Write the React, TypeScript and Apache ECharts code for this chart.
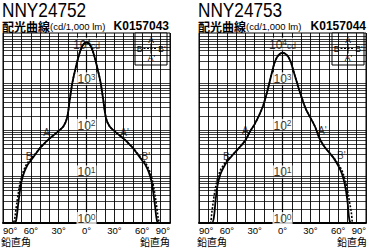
import React, { useEffect, useRef } from 'react';
import * as echarts from 'echarts';

// ---------------- data ----------------
const ANGLES = [-90, -80, -78, -76, -74, -72, -70, -67, -64, -60, -55, -50, -45, -40, -35, -30, -25, -21, -18, -15, -12, -9, -6, -3, 0,
  3, 6, 9, 12, 15, 18, 21, 25, 30, 35, 40, 45, 50, 55, 60, 64, 67, 70, 72, 74, 76, 78, 80, 90];

// NNY24752  (cd/1,000 lm)
const SOLID_1 = [1, 1, 1, 1.1, 2.2, 4.5, 8, 12.5, 17, 22, 30, 41, 52, 65, 78, 95, 118, 180, 450, 1080, 2000, 3500, 5400, 7000, 7500,
  7000, 5400, 3500, 2000, 1080, 450, 180, 118, 95, 78, 65, 52, 41, 30, 22, 17, 12.5, 8, 4.5, 2.2, 1.1, 1, 1, 1];
const DASHED_1 = [1, 1, 1.1, 2, 3.8, 6.5, 10, 14.5, 19, 24, 31, 41, 52, 65, 78, 95, 118, 180, 450, 1080, 2000, 3500, 5400, 7000, 7500,
  7000, 5400, 3500, 2000, 1080, 450, 180, 118, 95, 78, 65, 52, 41, 31, 24, 19, 14.5, 10, 6.5, 3.8, 2, 1.1, 1, 1];

// NNY24753
const SOLID_2 = [1, 1, 1, 1, 1.3, 3.2, 6.5, 11, 15, 20.5, 27, 35, 45, 60, 92, 133, 210, 325, 515, 860, 1530, 2600, 3600, 4250, 4500,
  4300, 3750, 2820, 1790, 1130, 715, 475, 284, 183, 118, 65, 44, 33, 25, 17, 11.5, 7, 3, 1.2, 1, 1, 1, 1, 1];
const DASHED_2 = [1, 1, 1, 1.8, 3.5, 6, 9, 13.5, 17, 22, 27.5, 35, 45, 60, 92, 133, 210, 325, 515, 860, 1530, 2600, 3600, 4250, 4500,
  4300, 3750, 2820, 1790, 1130, 715, 475, 284, 183, 118, 65, 44, 33, 25.5, 18.5, 13.5, 9, 5, 3, 1.8, 1, 1, 1, 1];

const DECADES = [1, 10, 100, 1000, 10000];
const MINOR_STEPS = [2, 3, 4, 5, 6, 7, 8, 9, 10];
const X_TICK_LABELS = [-90, -60, -30, 0, 30, 60, 90];

const CURVE_LABELS_1 = [
  { text: 'A', angle: -43, cd: 86 },
  { text: "A'", angle: 41, cd: 86 },
  { text: 'B', angle: -62, cd: 27 },
  { text: "B'", angle: 64, cd: 27 },
];
const CURVE_LABELS_2 = [
  { text: 'A', angle: -40, cd: 95 },
  { text: "A'", angle: 43, cd: 95 },
  { text: 'B', angle: -60.5, cd: 27 },
  { text: "B'", angle: 63.5, cd: 27.5 },
];

const PANELS = [
  { title: 'NNY24752', code: 'K0157043', solid: SOLID_1, dashed: DASHED_1, labels: CURVE_LABELS_1, left: 3, width: 167 },
  { title: 'NNY24753', code: 'K0157044', solid: SOLID_2, dashed: DASHED_2, labels: CURVE_LABELS_2, left: 199, width: 168 },
];

// ---------------- styling ----------------
const SANS = "'Liberation Sans', Arial, sans-serif";
const CJK = "'Noto Sans CJK JP', sans-serif";
const GRID_TOP = 33;
const GRID_H = 190;
const Y_MAX = 12000;

function gridValues(): number[] {
  const out: number[] = [];
  DECADES.slice(0, 4).forEach((d) => MINOR_STEPS.forEach((m) => out.push(d * m)));
  return out;
}

function buildOption() {
  const grid: any[] = [];
  const xAxis: any[] = [];
  const yAxis: any[] = [];
  const series: any[] = [];
  const graphic: any[] = [];

  PANELS.forEach((p, i) => {
    grid.push({
      left: p.left, top: GRID_TOP, width: p.width, height: GRID_H,
      show: true, borderColor: '#000', borderWidth: 1, backgroundColor: '#fff',
    });
    xAxis.push({
      type: 'value', gridIndex: i, min: -90, max: 90, interval: 10,
      axisLine: { show: true, onZero: false, lineStyle: { color: '#000', width: 2 } },
      axisTick: { show: false },
      splitLine: { show: true, lineStyle: { color: '#000', width: 0.9 } },
      axisLabel: {
        interval: 0, margin: 2, color: '#000', fontSize: 9.5, fontFamily: SANS,
        alignMinLabel: 'left', alignMaxLabel: 'right',
        formatter: (v: number) => (X_TICK_LABELS.includes(v) ? Math.abs(v) + '°' : ''),
      },
    });
    yAxis.push({
      type: 'log', logBase: 10, gridIndex: i, min: 1, max: Y_MAX,
      axisLine: { show: true, lineStyle: { color: '#000', width: 1.2 } },
      axisTick: { show: false }, axisLabel: { show: false }, splitLine: { show: false },
    });

    // horizontal log grid lines
    series.push({
      type: 'line', xAxisIndex: i, yAxisIndex: i, z: 1, silent: true,
      data: [[0, 1]], symbol: 'none', lineStyle: { width: 0 },
      markLine: {
        silent: true, symbol: ['none', 'none'], label: { show: false },
        lineStyle: { color: '#000', width: 0.75, type: 'solid' },
        emphasis: { disabled: true },
        data: gridValues().map((v) => ({ yAxis: v })),
      },
    });

    // decade labels 10^n on the 0° line
    series.push({
      type: 'scatter', xAxisIndex: i, yAxisIndex: i, z: 2, silent: true,
      symbolSize: 0,
      data: DECADES.map((d, k) => ({
        value: [0, d],
        label: k === 4 ? { position: 'bottom', distance: 1 } : { position: 'top', distance: -2 },
      })),
      label: {
        show: true, backgroundColor: '#fff', padding: [0, 1, 0, 1],
        formatter: (pr: any) => {
          const k = Math.round(Math.log10(pr.value[1]));
          return `{n|10}{s|${k}}` + (k === 4 ? '{c|cd}' : '');
        },
        rich: {
          n: { fontSize: 12, fontFamily: SANS, color: '#000', lineHeight: 13, verticalAlign: 'bottom' },
          s: { fontSize: 8.5, fontFamily: SANS, color: '#000', lineHeight: 13, verticalAlign: 'top' },
          c: { fontSize: 8.5, fontFamily: SANS, color: '#000', lineHeight: 13, verticalAlign: 'bottom' },
        },
      },
    });

    // B-B' dashed curve
    series.push({
      type: 'line', xAxisIndex: i, yAxisIndex: i, z: 3, silent: true, clip: true,
      data: ANGLES.map((a, j) => [a, p.dashed[j]]), symbol: 'none', smooth: 0.35,
      lineStyle: { color: '#000', width: 1.6, type: [2, 1.6] },
    });
    // A-A' solid curve
    series.push({
      type: 'line', xAxisIndex: i, yAxisIndex: i, z: 4, silent: true, clip: true,
      data: ANGLES.map((a, j) => [a, p.solid[j]]), symbol: 'none', smooth: 0.35,
      lineStyle: { color: '#000', width: 1.8 },
    });
    // A / B labels
    series.push({
      type: 'scatter', xAxisIndex: i, yAxisIndex: i, z: 5, silent: true, symbolSize: 0,
      data: p.labels.map((l) => ({ value: [l.angle, l.cd], name: l.text })),
      label: { show: true, position: 'inside', formatter: '{b}', fontSize: 10, fontFamily: SANS, color: '#000' },
    });

    const right = p.left + p.width;
    // titles (condensed look via scaleX)
    graphic.push({
      type: 'text', x: p.left - 1, y: 10, z: 20, scaleX: 0.82,
      style: { text: p.title, fontSize: 21, fontFamily: SANS, fill: '#000', verticalAlign: 'middle', align: 'left' },
    });
    graphic.push({
      type: 'text', x: p.left - 1, y: 26, z: 20,
      style: {
        text: '{a|配光曲線}{b|(cd/1,000 lm)}', verticalAlign: 'middle', align: 'left',
        rich: {
          a: { fontSize: 12, fontWeight: 'bold', fontFamily: CJK, fill: '#000' },
          b: { fontSize: 9.5, fontFamily: SANS, fill: '#000' },
        },
      },
    });
    graphic.push({
      type: 'text', x: right - 1, y: 26, z: 20,
      style: { text: p.code, fontSize: 12, fontWeight: 'bold', fontFamily: SANS, fill: '#000', verticalAlign: 'middle', align: 'right' },
    });
    graphic.push({
      type: 'text', x: Math.max(0, p.left - 2), y: 241.5, z: 20,
      style: { text: '鉛直角', fontSize: 10, fontFamily: CJK, fill: '#000', verticalAlign: 'middle', align: 'left' },
    });
    graphic.push({
      type: 'text', x: Math.min(368, right), y: 241.5, z: 20,
      style: { text: '鉛直角', fontSize: 10, fontFamily: CJK, fill: '#000', verticalAlign: 'middle', align: 'right' },
    });
    // legend box
    const bx = right - 35;
    const by = GRID_TOP;
    const t = (text: string, x: number, y: number) => ({
      type: 'text', x, y,
      style: { text, fontSize: 8.5, fontFamily: SANS, fill: '#000', align: 'center', verticalAlign: 'middle' },
    });
    graphic.push({
      type: 'group', x: bx, y: by, z: 30,
      children: [
        { type: 'rect', shape: { x: 0, y: 0, width: 32, height: 32 }, style: { fill: '#fff', stroke: '#000', lineWidth: 1 } },
        { type: 'line', shape: { x1: 16, y1: 10.5, x2: 16, y2: 20.5 }, style: { stroke: '#000', lineWidth: 1 } },
        { type: 'line', shape: { x1: 8.5, y1: 15.5, x2: 22.5, y2: 15.5 }, style: { stroke: '#000', lineWidth: 1, lineDash: [2, 1.5] } },
        t('A', 16, 6.5),
        t('B', 4.5, 15.5),
        t("B'", 27, 15.5),
        t("A'", 16.5, 25),
      ],
    });
  });

  return {
    animation: false,
    backgroundColor: '#fff',
    grid, xAxis, yAxis, series, graphic,
  };
}

export default function App() {
  const ref = useRef<HTMLDivElement>(null);
  useEffect(() => {
    document.body.style.margin = '0';
    const chart = echarts.init(ref.current as HTMLDivElement, null, { renderer: 'svg', width: 369, height: 248 });
    chart.setOption(buildOption() as any);
    return () => chart.dispose();
  }, []);
  return <div ref={ref} style={{ position: 'absolute', left: 0, top: 0, width: 369, height: 248, background: '#fff' }} />;
}
